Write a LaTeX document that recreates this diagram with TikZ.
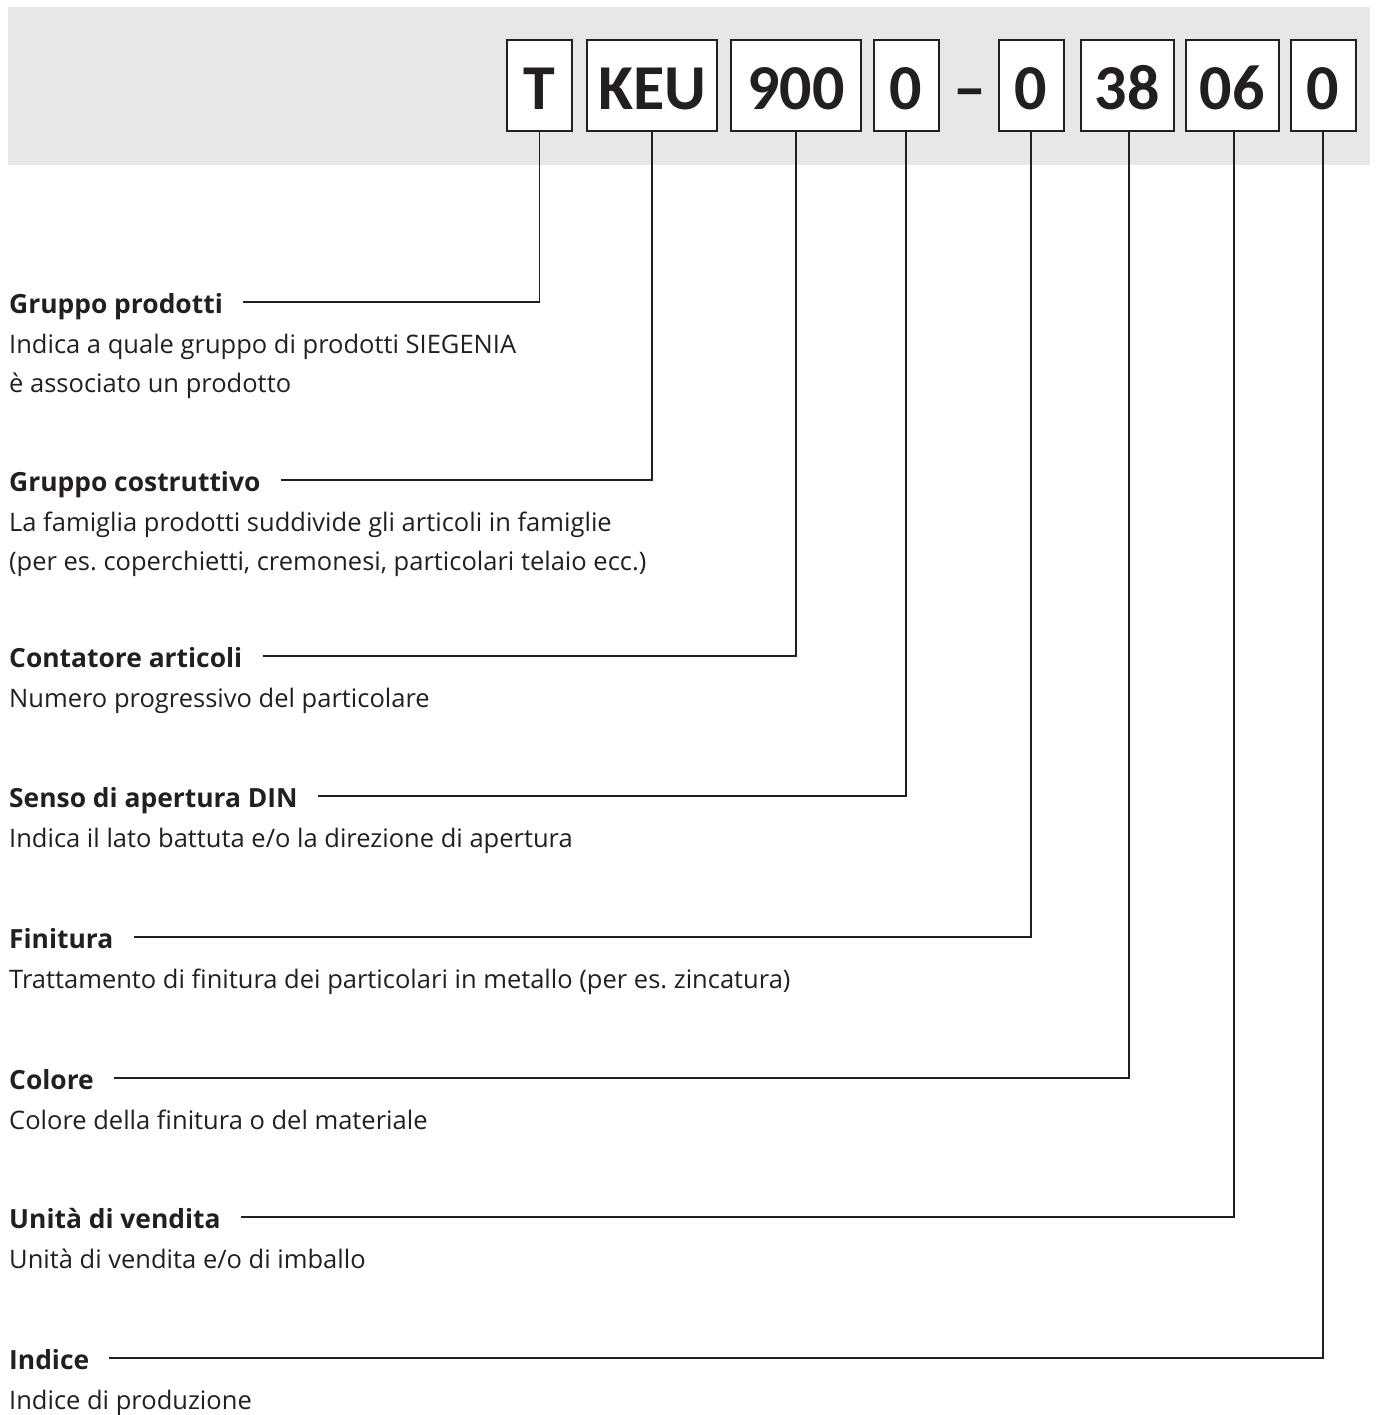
\documentclass[tikz,border=0pt]{standalone}
\usepackage{fontspec}
\setmainfont{Open Sans}
\newfontfamily\boxfont{Carlito}
\frenchspacing
\definecolor{ink}{HTML}{231F20}
\definecolor{band}{HTML}{E6E7E8}
\begin{document}
\begin{tikzpicture}[x=1pt,y=-1pt,
  box/.style={draw=ink,line width=2pt,fill=white,text=ink,inner sep=0pt,
    minimum height=91pt,text height=49pt,text depth=0pt,
    font=\boxfont\fontsize{64}{70}\selectfont\bfseries},
  title/.style={anchor=west,inner sep=0pt,text=ink,text height=28pt,text depth=6pt,
    font=\fontsize{26.4}{39}\selectfont\bfseries},
  desc/.style={anchor=base west,inner sep=0pt,text=ink,align=left,
    font=\fontsize{25.5}{39}\selectfont},
  conn/.style={draw=ink,line width=1.6pt}]
  \useasboundingbox (0,0) rectangle (1375,1415);
  \fill[band] (8,7) rectangle (1370,165);
  % code boxes
  \node[box,minimum width=65pt]  (bT)   at (539.5,85.5) {T};
  \node[box,minimum width=130pt] (bKEU) at (652,85.5) {KEU};
  \node[box,minimum width=130pt] (bNum) at (796,85.5) {900};
  \node[box,minimum width=65pt]  (bDin) at (906,85.5) {0};
  \node[anchor=base,text=ink,inner sep=0pt,font=\boxfont\fontsize{66}{70}\selectfont\bfseries] (dash) at (970,111) {–};
  \node[box,minimum width=65pt]  (bFin) at (1031,85.5) {0};
  \node[box,minimum width=93pt]  (bCol) at (1127,85.5) {38};
  \node[box,minimum width=93pt]  (bVen) at (1232,85.5) {06};
  \node[box,minimum width=65pt]  (bIdx) at (1323,85.5) {0};
  % descriptions (desc nodes sit on the baseline of their last line)
  \node[title] (tGrp) at (9,302) {Gruppo prodotti};
  \node[desc] (dGrp) at (9,392) {Indica a quale gruppo di prodotti SIEGENIA\\è associato un prodotto};
  \node[title] (tCos) at (9,480) {Gruppo costruttivo};
  \node[desc] (dCos) at (9,570) {La famiglia prodotti suddivide gli articoli in famiglie\\(per es. coperchietti, cremonesi, particolari telaio ecc.)};
  \node[title] (tCnt) at (9,656) {Contatore articoli};
  \node[desc] (dCnt) at (9,707) {Numero progressivo del particolare};
  \node[title] (tDin) at (9,796) {Senso di apertura DIN};
  \node[desc] (dDin) at (9,847) {Indica il lato battuta e/o la direzione di apertura};
  \node[title] (tFin) at (9,937) {Finitura};
  \node[desc] (dFin) at (9,988) {Trattamento di finitura dei particolari in metallo (per es. zincatura)};
  \node[title] (tCol) at (9,1078) {Colore};
  \node[desc] (dCol) at (9,1129) {Colore della finitura o del materiale};
  \node[title] (tVen) at (9,1217) {Unità di vendita};
  \node[desc] (dVen) at (9,1268) {Unità di vendita e/o di imballo};
  \node[title] (tIdx) at (9,1358) {Indice};
  \node[desc] (dIdx) at (9,1409) {Indice di produzione};
  % connectors
  \draw[conn] ([xshift=20pt]tGrp.east) -| (bT.south);
  \draw[conn] ([xshift=20pt]tCos.east) -| (bKEU.south);
  \draw[conn] ([xshift=20pt]tCnt.east) -| (bNum.south);
  \draw[conn] ([xshift=20pt]tDin.east) -| (bDin.south);
  \draw[conn] ([xshift=20pt]tFin.east) -| (bFin.south);
  \draw[conn] ([xshift=20pt]tCol.east) -| ([xshift=2pt]bCol.south);
  \draw[conn] ([xshift=20pt]tVen.east) -| ([xshift=2pt]bVen.south);
  \draw[conn] ([xshift=20pt]tIdx.east) -| (bIdx.south);
\end{tikzpicture}
\end{document}
